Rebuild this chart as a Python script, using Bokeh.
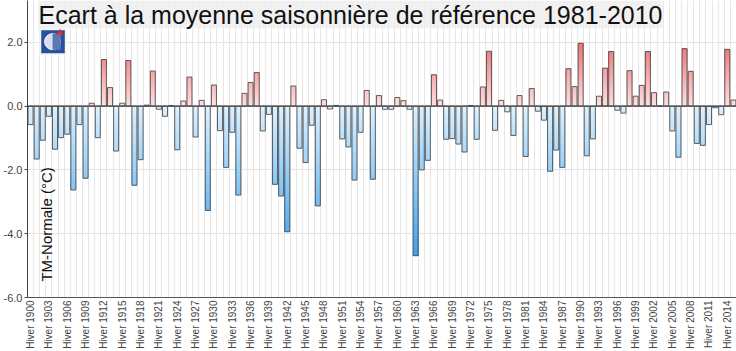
import numpy as np
from bokeh.plotting import figure
from bokeh.models import FixedTicker, Span, Label, ColumnDataSource, NumeralTickFormatter
from bokeh.embed import file_html
from bokeh.resources import INLINE

# ---- data ----
years = list(range(1900, 2016))
anomalies = [
    -0.58, -1.66, -1.07, -0.32, -1.35, -0.99, -0.88, -2.63, -0.58, -2.26,   # 1900-1909
     0.09, -0.99,  1.46,  0.58, -1.41,  0.09,  1.43, -2.48, -1.68,  0.03,   # 1910-1919
     1.10, -0.10, -0.32,  0.02, -1.37,  0.16,  0.91, -0.97,  0.18, -3.27,   # 1920-1929
     0.66, -0.77, -1.92, -0.82, -2.79,  0.40,  0.74,  1.05, -0.78, -0.26,   # 1930-1939
    -2.45, -2.82, -3.94,  0.63, -1.32, -1.77, -0.60, -3.13,  0.20, -0.09,   # 1940-1949
     0.02, -1.03, -1.28, -2.32, -0.82,  0.49, -2.29,  0.33, -0.10, -0.10,   # 1950-1959
     0.27,  0.17, -0.10, -4.69, -2.00, -1.70,  0.98,  0.19, -1.04, -1.02,   # 1960-1969
    -1.19, -1.44,  0.02, -1.04,  0.60,  1.72, -0.76,  0.18, -0.18, -0.92,   # 1970-1979
     0.33, -1.58,  0.55, -0.16, -0.44, -2.04, -1.38, -1.92,  1.17,  0.61,   # 1980-1989
     1.97, -1.56, -1.03,  0.31,  1.19,  1.71, -0.13, -0.22,  1.11,  0.31,   # 1990-1999
     0.65,  1.71,  0.42,  0.00,  0.44, -0.78, -1.60,  1.80,  1.09, -1.17,   # 2000-2009
    -1.23, -0.58, -0.05, -0.27,  1.78,  0.19,                               # 2010-2015
]
tick_years = list(range(1900, 2016, 3))
y_ticks = [-6.0, -4.0, -2.0, 0.0, 2.0]
title_text = "Ecart à la moyenne saisonnière de référence 1981-2010"
ylabel_text = "TM-Normale (°C)"

idx = list(range(len(years)))

# ---- gradient slices (colour depends on the value level, as in the reference) ----
def lerp(c0, c1, t):
    t = max(0.0, min(1.0, t))
    return "#%02x%02x%02x" % tuple(int(round(a + (b - a) * t)) for a, b in zip(c0, c1))

POS0, POS1 = (255, 224, 224), (238, 112, 116)   # 0 -> 2.0
NEG0, NEG1 = (222, 241, 255), (58, 163, 240)    # 0 -> -4.7

# each slice runs from its start level to the bar's end; later slices overlay
# earlier ones, so no antialiasing seams appear between them
sx, sb, st, sc = [], [], [], []
step = 0.08
for i, v in zip(idx, anomalies):
    if v == 0:
        continue
    n = max(1, int(np.ceil(abs(v) / step)))
    edges = np.linspace(0, v, n + 1)
    for a, b in zip(edges[:-1], edges[1:]):
        mid = (a + b) / 2
        if v > 0:
            col = lerp(POS0, POS1, mid / 2.0)
        else:
            col = lerp(NEG0, NEG1, -mid / 4.7)
        sx.append(i); sb.append(a); st.append(v); sc.append(col)

p = figure(width=736, height=351, x_range=(-0.5, 115.5), y_range=(-6.0, 3.31),
           output_backend="svg", toolbar_location=None,
           min_border_left=26, min_border_right=0, min_border_top=0, min_border_bottom=53)
p.outline_line_color = None
p.background_fill_color = "white"
p.border_fill_color = "white"

# grids
p.xgrid.ticker = FixedTicker(ticks=[i - 0.5 for i in range(0, 117)])
p.xgrid.grid_line_color = "#e6e6e6"
p.xgrid.grid_line_width = 1
p.ygrid.grid_line_color = "#e4e4e4"

# bars (gradient slices + outline)
p.vbar(x=sx, bottom=sb, top=st, width=0.82, fill_color=sc, line_color=None)
src = ColumnDataSource(dict(x=idx, top=anomalies, bottom=[0] * len(idx)))
p.vbar(x="x", top="top", bottom="bottom", width=0.82, source=src,
       fill_alpha=0, line_color="#505050", line_width=1, line_alpha=0.9)

p.add_layout(Span(location=0, dimension="width", line_color="#333333", line_width=1))

# axes
p.yaxis.ticker = FixedTicker(ticks=y_ticks)
p.yaxis.formatter = NumeralTickFormatter(format="0.0")
p.yaxis.major_tick_out = 3
p.yaxis.major_tick_in = 0
p.yaxis.minor_tick_line_color = None
p.yaxis.major_label_standoff = 2
p.yaxis.major_label_text_font = "Liberation Sans"
p.yaxis.major_label_text_font_size = "11px"
p.yaxis.major_label_text_color = "#444444"
p.yaxis.axis_line_color = "#444444"
p.yaxis.major_tick_line_color = "#444444"

p.xaxis.ticker = FixedTicker(ticks=[y - 1900 for y in tick_years])
p.xaxis.major_label_overrides = {y - 1900: f"Hiver {y}" for y in tick_years}
p.xaxis.major_label_orientation = np.pi / 2
p.xaxis.major_tick_out = 0
p.xaxis.major_tick_in = 0
p.xaxis.minor_tick_line_color = None
p.xaxis.major_label_standoff = 3
p.xaxis.major_label_text_font = "Liberation Sans"
p.xaxis.major_label_text_font_size = "10px"
p.xaxis.major_label_text_color = "#444444"
p.xaxis.axis_line_color = "#555555"

# logo (approximation)
p.quad(left=1.45, right=5.9, top=2.44, bottom=1.6, fill_color="#f4f4f4", line_color=None)
p.quad(left=1.75, right=5.6, top=2.38, bottom=1.66, fill_color="#2a4f9c", line_color=None)
p.ellipse(x=3.6, y=2.02, width=2.6, height=0.5, fill_color="#d8dde8", line_color="#ffffff")
p.quad(left=3.6, right=4.95, top=2.27, bottom=1.77, fill_color="#5a78b8", line_color=None)
p.scatter(x=[4.8], y=[2.3], marker="triangle", size=7, fill_color="#e03020", line_color=None)

# title
p.add_layout(Label(x=1.3, y=3.31, text=title_text, text_baseline="top", text_align="left",
                   text_font="Liberation Sans", text_font_size="25px", text_color="#111111",
                   background_fill_color="#eeeeee", background_fill_alpha=0.85))

# y label inside the plot
p.add_layout(Label(x=2.6, y=-5.5, text=ylabel_text, angle=np.pi / 2, text_align="left",
                   text_baseline="middle", text_font="Liberation Sans",
                   text_font_size="15px", text_color="#111111"))

open("out.html", "w").write(file_html(p, INLINE))
